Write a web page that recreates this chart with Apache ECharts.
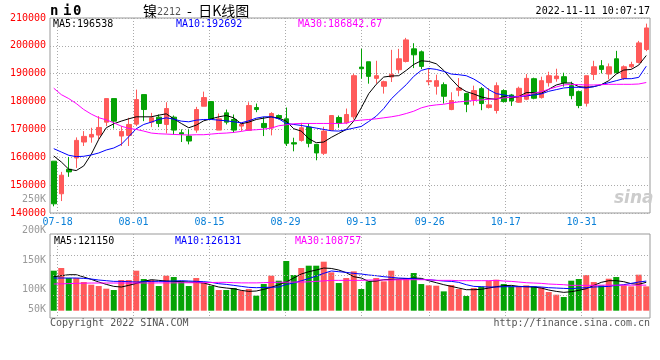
<!DOCTYPE html>
<html><head><meta charset="utf-8">
<script src="https://cdn.jsdelivr.net/npm/echarts@6/dist/echarts.min.js"></script>
<style>html,body{margin:0;padding:0;background:#fff}#c{width:660px;height:360px}</style>
</head><body><div id="c"></div>
<script>
const dates = ['07-15','07-18','07-19','07-20','07-21','07-22','07-25','07-26','07-27','07-28','07-29',
'08-01','08-02','08-03','08-04','08-05','08-08','08-09','08-10','08-11','08-12',
'08-15','08-16','08-17','08-18','08-19','08-22','08-23','08-24','08-25','08-26',
'08-29','08-30','08-31','09-01','09-02','09-05','09-06','09-07','09-08','09-09',
'09-13','09-14','09-15','09-16','09-19','09-20','09-21','09-22','09-23',
'09-26','09-27','09-28','09-29','09-30','10-10','10-11','10-12','10-13','10-14',
'10-17','10-18','10-19','10-20','10-21','10-24','10-25','10-26','10-27','10-28',
'10-31','11-01','11-02','11-03','11-04','11-07','11-08','11-09','11-10','11-11'];
const opens = [158600,146900,155710,159760,165480,167260,167980,172620,181070,167620,167860,171900,182500,172620,174400,171790,174400,168810,167620,169760,
178330,180000,169760,175950,173570,171190,169640,177860,172140,170480,175000,173810,165240,166070,170830,164640,161430,169760,174290,172380,
174520,192380,194290,188330,185480,188810,191430,194400,198930,197860,187140,185480,186070,177140,184050,182860,180710,184640,177860,176790,
183930,182380,179760,180830,188210,181430,186790,188210,188930,185710,183570,179400,189760,192860,189880,195360,188330,192500,194050,198690];
const closes = [143300,153570,154760,166070,167500,168210,170710,181070,172980,169290,171790,180710,177140,174170,172140,177500,169760,168330,165830,177140,
181430,173810,173810,172620,169760,171900,178570,177140,170710,175710,174050,165000,164760,170600,165000,161550,169400,175000,172140,175360,
189290,191790,189050,189290,187140,189760,195360,202140,196790,192620,187500,187500,181900,180360,184880,179050,183930,179290,178810,185710,
180000,180240,184760,188330,181190,187500,189290,189170,186790,182140,178570,189290,192500,191550,192500,190360,192500,193330,201070,206430];
const lows = [142400,144290,152980,156190,164050,165240,166430,171190,170360,164050,164050,171190,172980,170830,170830,168570,168100,165480,164640,168810,
178330,173570,169760,171790,168810,169400,169640,176190,167620,167860,173570,164050,162140,165600,163570,158930,160830,169760,170600,171900,
173570,188210,186430,186430,182860,187020,190240,194050,192020,191670,185830,182500,179290,176900,181900,176190,178570,176900,177500,175710,
179640,178450,179500,180500,180830,181070,185360,187140,185360,180830,177620,178210,187740,190120,187980,190120,187740,191900,193690,198100];
const highs = [158600,154760,160120,167140,169400,170600,174760,181070,181070,171190,174170,184290,182500,175950,175360,179760,175000,170000,170000,178100,
183570,180000,175710,177140,175360,172380,179760,179290,174520,176190,175360,177860,167020,172380,172140,164640,170950,175000,175000,177500,
190000,198930,194290,194640,187500,198570,198930,202860,200950,198330,192020,189640,186900,183330,188450,183100,185710,185240,184880,186900,
184400,182740,185360,189880,188570,188930,190710,191790,190360,187140,183930,189290,194640,194880,193690,198210,192980,194290,201790,207980];
const ma5 = [160476,158333,155714,155238,156905,161071,166429,170595,172024,172976,173810,174524,174524,174524,175119,175595,173810,172143,170595,171548,
173095,173810,174524,175000,174167,172024,172619,173571,174048,174524,174048,172976,170238,169405,166667,165238,165476,167143,168571,170000,
172976,177738,182857,186190,188810,189167,189286,191190,193333,194643,194405,193571,191190,188095,185238,183571,182738,181667,181071,180833,
181786,181310,181786,183214,183214,182976,184405,185952,186667,186667,185357,185119,185357,186071,187500,189881,191310,191548,193095,196538];
const ma10 = [163095,161905,160714,160238,160357,160833,161548,162619,163333,164643,167381,170238,171786,172619,173571,174167,173690,172976,172738,173333,
173571,173571,173333,173095,172738,172381,173095,174048,174524,174524,173810,172143,171786,171429,170952,170476,170000,169524,169405,169881,
170476,171071,172857,174762,177500,180952,183571,186071,189048,191190,191905,191548,190833,189881,189643,189286,188095,186429,184286,182857,
182381,181905,181786,182024,182381,182738,183690,184286,184881,185119,185119,184881,185357,186071,186786,187500,188214,188214,188690,192692];
const ma30 = [184800,182500,181071,179300,177143,175500,174200,173450,172380,171190,170360,170000,169400,168700,168450,168330,168200,168100,168000,168100,
168100,168333,168571,168690,168929,169286,169762,169881,170119,170476,171310,171667,172024,172143,172143,172143,172143,172143,172143,172262,
173095,173333,173571,173810,174167,174524,175000,175714,176548,177738,178452,178810,179048,179524,179881,180119,180357,180595,180833,180952,
181310,181548,181786,182262,182976,183571,184405,185238,185952,186190,186071,185952,185952,186071,186190,186190,186190,186190,186310,186843];
const volumes = [170400,181760,139160,139160,122120,110760,105080,93720,88040,130640,130640,170400,134900,130640,105080,149100,143420,124960,105080,139160,
117860,105080,88040,88040,96560,85200,92300,63900,113600,149100,127800,211580,151940,181760,191700,191700,208740,163300,117860,139160,
167560,92300,124960,139160,124960,170400,134900,139160,160460,113600,107920,106500,82360,109340,92300,62480,96560,102240,127800,132060,
113600,103660,103660,107920,103660,99400,79520,68160,58220,127800,134900,151940,122120,107920,136320,143420,107920,103660,153360,103660];
const vma5 = [144840,149100,153360,153360,143420,133480,122120,112180,103660,100820,107920,116440,124960,132060,129220,126380,124960,123540,122120,120700,
117860,109340,100820,96560,93720,86620,82360,83780,90880,99400,110760,122120,139160,156200,166140,173240,181760,180000,173240,161880,
144840,139160,124960,126380,132060,133480,134900,136320,139160,137740,127800,119280,110760,103660,96560,89460,89460,90880,96560,102240,
106500,107920,103660,102240,100820,96560,88040,82360,78100,80940,86620,93720,107920,120700,127800,127800,123540,115020,112180,121150];
const vma10 = [139160,139160,139160,139160,137740,134900,130640,127800,124960,124960,123540,122120,123540,124960,124960,124960,126380,127800,126380,124960,
123540,120700,115020,112180,107920,103660,99400,97980,98974,99978,100972,111612,118002,127374,136888,147538,159182,169122,166140,163300,
159040,156200,151940,149100,144840,142000,139160,137740,136320,133480,132060,129220,126380,124960,120700,110760,103660,102240,100820,100820,
102240,102240,102240,102240,102240,100820,97980,96560,95140,93720,96560,97980,100820,102240,103660,107920,110760,116440,122120,126131];
const vma30 = [113600,114500,115500,116400,117300,117860,117860,117860,117860,117860,117860,117860,118000,118000,118500,118500,118500,119000,119000,119280,
119280,120000,120700,120700,119280,118500,118500,118500,119500,120463,121000,121500,121883,121883,123000,125000,127000,129220,129220,129220,
129220,129220,130640,130640,130640,130640,132060,132060,132060,132060,132060,129220,129220,129220,127800,127800,127800,127800,127800,129220,
126380,124960,122120,119280,117860,116440,113600,112180,110760,108000,108000,108000,108000,108757,108757,108757,108757,108757,108757,108757];
const labelDates = ['07-18','08-01','08-15','08-29','09-13','09-26','10-17','10-31'];
const volTickLabels = ['250K','200K','150K','100K','50K'];
const volTickY = [200,231,261,290,310];
const volGridValues = [237300,152100,66900];
const titleChars = ['n','i','0'];
const titleX = [50,63,73];

const RED = '#ff5a5a', GREEN = '#05a205';
const candleData = opens.map((o,i)=>[o, closes[i], lows[i], highs[i]]);
const volData = volumes.map((v,i)=>({value:v, itemStyle:{color: closes[i]>=opens[i]?RED:GREEN}}));
const mono = 'DejaVu Sans Mono';
const isLabel = (idx, val) => labelDates.indexOf(val) >= 0;
const dotted = {color:'#aaaaaa', type:[1,2], width:1};

const chart = echarts.init(document.getElementById('c'), null, {renderer:'canvas'});
const graphics = [
  {type:'text', left:143, top:4, style:{text:'镍', font:'14px "Noto Sans CJK SC"', fill:'#000'}},
  {type:'text', left:157, top:7, style:{text:'2212', font:'10px "DejaVu Sans Mono"', fill:'#555'}},
  {type:'text', left:187, top:4, style:{text:'-  日K线图', font:'14px "Noto Sans CJK SC"', fill:'#000'}},
  {type:'text', right:10, top:6, style:{text:'2022-11-11 10:07:17', font:'10px "DejaVu Sans Mono"', fill:'#000'}},
  {type:'text', left:53, top:19, style:{text:'MA5:'+ma5[ma5.length-1], font:'10px "DejaVu Sans Mono"', fill:'#000'}},
  {type:'text', left:176, top:19, style:{text:'MA10:'+ma10[ma10.length-1], font:'10px "DejaVu Sans Mono"', fill:'#0000ff'}},
  {type:'text', left:298, top:19, style:{text:'MA30:186842.67', font:'10px "DejaVu Sans Mono"', fill:'#ff00ff'}},
  {type:'text', left:54, top:236, style:{text:'MA5:'+vma5[vma5.length-1], font:'10px "DejaVu Sans Mono"', fill:'#000'}},
  {type:'text', left:175, top:236, style:{text:'MA10:'+vma10[vma10.length-1], font:'10px "DejaVu Sans Mono"', fill:'#0000ff'}},
  {type:'text', left:295, top:236, style:{text:'MA30:'+vma30[vma30.length-1], font:'10px "DejaVu Sans Mono"', fill:'#ff00ff'}},
  {type:'text', left:50, top:318, style:{text:'Copyright 2022 SINA.COM', font:'10px "DejaVu Sans Mono"', fill:'#555'}},
  {type:'text', right:10, top:318, style:{text:'http://finance.sina.com.cn', font:'10px "DejaVu Sans Mono"', fill:'#555'}},
  {type:'text', left:614, top:190, style:{text:'sina', font:'italic bold 17px "DejaVu Sans"', fill:'#cccccc'}}
];
titleChars.forEach((c,i)=>graphics.push({type:'text', left:titleX[i], top:4, style:{text:c, font:'bold 14px "DejaVu Sans Mono"', fill:'#000'}}));
volTickLabels.forEach((t,i)=>graphics.push({type:'text', right:614, top:volTickY[i]-6, style:{text:t, font:'10px "DejaVu Sans Mono"', fill:'#999', align:'right'}}));

chart.setOption({
  animation:false,
  backgroundColor:'#fff',
  grid:[
    {left:50, top:18, width:600, height:195, show:true, borderColor:'#999', borderWidth:1, backgroundColor:'transparent'},
    {left:50, top:234, width:600, height:84, show:true, borderColor:'#999', borderWidth:1, backgroundColor:'transparent'}
  ],
  xAxis:[
    {type:'category', gridIndex:0, data:dates, boundaryGap:true, axisLine:{show:false}, axisTick:{show:false}, axisLabel:{show:false}, splitLine:{show:false}},
    {type:'category', gridIndex:0, data:dates, boundaryGap:false, position:'bottom', axisLine:{show:false}, axisTick:{show:false},
      axisLabel:{interval:isLabel, color:'#0a80d8', fontFamily:mono, fontSize:10, margin:4},
      splitLine:{show:true, interval:isLabel, lineStyle:dotted}},
    {type:'category', gridIndex:1, data:dates, boundaryGap:true, axisLine:{show:false}, axisTick:{show:false}, axisLabel:{show:false}, splitLine:{show:false}},
    {type:'category', gridIndex:1, data:dates, boundaryGap:false, axisLine:{show:false}, axisTick:{show:false}, axisLabel:{show:false},
      splitLine:{show:true, interval:isLabel, lineStyle:dotted}}
  ],
  yAxis:[
    {type:'value', gridIndex:0, min:140000, max:210000, interval:10000, axisLine:{show:false}, axisTick:{show:false},
      axisLabel:{color:'#ff0000', fontFamily:mono, fontSize:10, margin:4, formatter:v=>String(v)}, splitLine:{show:true, lineStyle:dotted}},
    {type:'value', gridIndex:1, min:-31100, max:326700, axisLine:{show:false}, axisTick:{show:false}, axisLabel:{show:false}, splitLine:{show:false}}
  ],
  series:[
    {type:'candlestick', xAxisIndex:0, yAxisIndex:0, data:candleData, barWidth:5,
      itemStyle:{color:RED, color0:GREEN, borderColor:RED, borderColor0:GREEN, borderWidth:1}},
    {type:'line', xAxisIndex:0, yAxisIndex:0, data:ma5, symbol:'none', lineStyle:{color:'#000', width:1}},
    {type:'line', xAxisIndex:0, yAxisIndex:0, data:ma10, symbol:'none', lineStyle:{color:'#0000ff', width:1}},
    {type:'line', xAxisIndex:0, yAxisIndex:0, data:ma30, symbol:'none', lineStyle:{color:'#ff00ff', width:1}},
    {type:'bar', xAxisIndex:2, yAxisIndex:1, data:volData, barWidth:6,
      markLine:{silent:true, symbol:'none', label:{show:false}, lineStyle:dotted, data:volGridValues.map(v=>({yAxis:v}))}},
    {type:'line', xAxisIndex:2, yAxisIndex:1, data:vma5, symbol:'none', lineStyle:{color:'#000', width:1}},
    {type:'line', xAxisIndex:2, yAxisIndex:1, data:vma10, symbol:'none', lineStyle:{color:'#0000ff', width:1}},
    {type:'line', xAxisIndex:2, yAxisIndex:1, data:vma30, symbol:'none', lineStyle:{color:'#ff00ff', width:1}}
  ],
  graphic:graphics
});
</script></body></html>
